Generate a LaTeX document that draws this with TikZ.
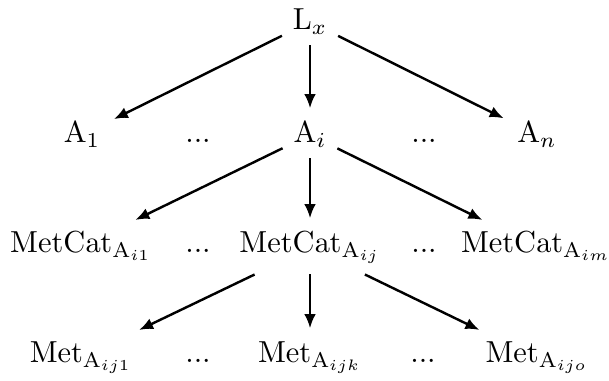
\documentclass[tikz,border=0pt]{standalone}
\usetikzlibrary{arrows.meta}
\begin{document}
\begin{tikzpicture}[x=0.3289pt,y=-0.3289pt,
  cell/.style={anchor=base,inner sep=3.4pt},
  arr/.style={line width=0.8pt,-{Latex[length=4.6pt,width=3.8pt]},shorten >=1pt}]
\useasboundingbox (0,0) rectangle (609,381);
% row 1
\node[cell] (L) at (310,30) {$\mathrm{L}_x$};
% row 2
\node[cell] (A1) at (82,143) {$\mathrm{A}_1$};
\node[cell] (d1) at (198,143) {...};
\node[cell] (Ai) at (310,143) {$\mathrm{A}_i$};
\node[cell] (d2) at (424,143) {...};
\node[cell] (An) at (537,143) {$\mathrm{A}_n$};
% row 3
\node[cell] (C1) at (81,253) {$\mathrm{MetCat}_{\mathrm{A}_{i1}}$};
\node[cell] (d3) at (198,253) {...};
\node[cell] (Cj) at (310,253) {$\mathrm{MetCat}_{\mathrm{A}_{ij}}$};
\node[cell] (d4) at (424,253) {...};
\node[cell] (Cm) at (536,253) {$\mathrm{MetCat}_{\mathrm{A}_{im}}$};
% row 4
\node[cell] (M1) at (81,363) {$\mathrm{Met}_{\mathrm{A}_{ij1}}$};
\node[cell] (d5) at (198,363) {...};
\node[cell] (Mk) at (310,363) {$\mathrm{Met}_{\mathrm{A}_{ijk}}$};
\node[cell] (d6) at (423,363) {...};
\node[cell] (Mo) at (537,363) {$\mathrm{Met}_{\mathrm{A}_{ijo}}$};
% arrows
\draw[arr] (L) -- (A1);
\draw[arr] (L) -- (Ai);
\draw[arr] (L) -- (An);
\draw[arr] (Ai) -- (C1);
\draw[arr] (Ai) -- (Cj);
\draw[arr] (Ai) -- (Cm);
\draw[arr] (Cj) -- (M1);
\draw[arr] (Cj.south) -- (Mk.north);
\draw[arr] (Cj) -- (Mo);
\end{tikzpicture}
\end{document}
